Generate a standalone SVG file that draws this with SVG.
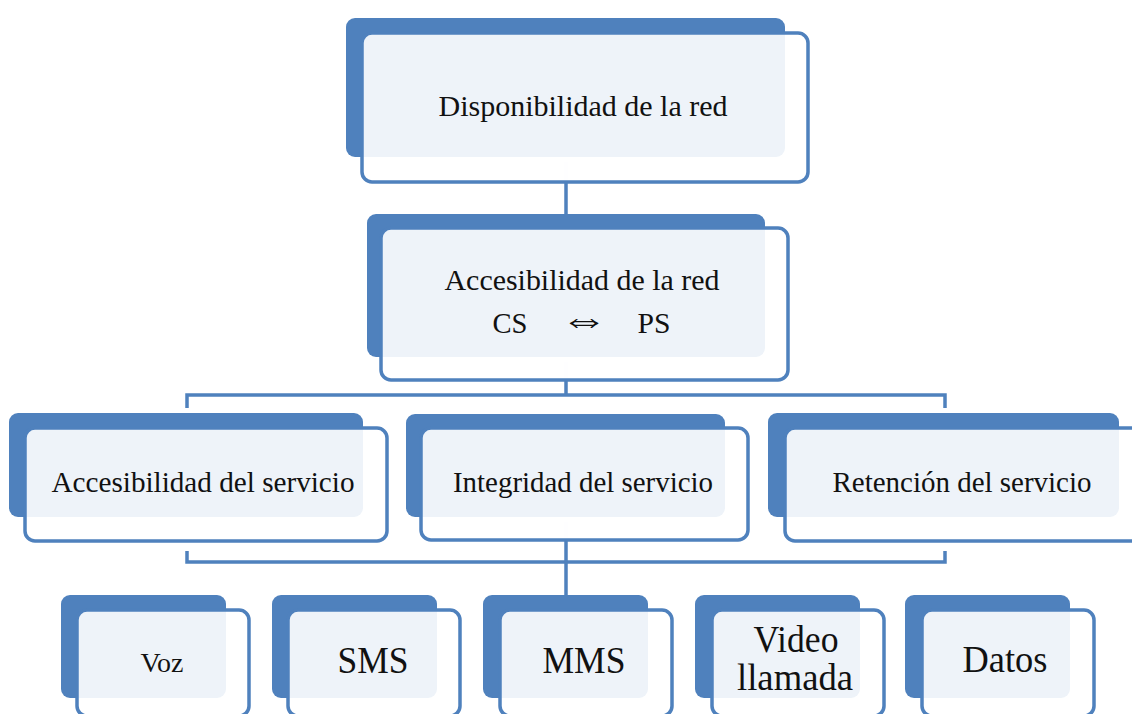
<svg xmlns="http://www.w3.org/2000/svg" width="1132" height="714" viewBox="0 0 1132 714">
<style>
.bk{fill:#4F81BD}
.fr{fill:#ffffff;fill-opacity:0.9;stroke:#4F81BD;stroke-width:3.5}
.ln{fill:none;stroke:#4F81BD;stroke-width:3.5}
.ghost{fill:none;stroke:#4F81BD;stroke-width:3.5;stroke-opacity:0.1}
.t1{font-size:30px}
.t2{font-size:37px}
.t3{font-size:27px}
</style>
<rect width="1132" height="714" fill="#ffffff"/>
<g id="connectors">
<path class="ln" d="M566,183 V228"/>
<path class="ln" d="M566,381 V395"/>
<path class="ln" d="M187,408 V395 H945 V408"/>
<path class="ln" d="M187,551 V562 H945 V551"/>
<path class="ln" d="M566,541 V596"/>
<path class="ghost" d="M566,162 V182 M566,362 V380 M566,522 V540"/>
</g>
<g id="nodes" font-family="'Liberation Serif', 'Times New Roman', Tinos, 'Noto Serif', 'DejaVu Serif', serif" fill="#111" text-anchor="middle">
<g id="n-disponibilidad">
<rect class="bk" x="346" y="18" width="439" height="139" rx="9"/>
<rect class="fr" x="362" y="33" width="446" height="149" rx="10"/>
<text class="t1" x="583" y="116" textLength="289" lengthAdjust="spacingAndGlyphs">Disponibilidad de la red</text>
</g>
<g id="n-accesibilidad-red">
<rect class="bk" x="367" y="214" width="398" height="143" rx="9"/>
<rect class="fr" x="381" y="228" width="407" height="152" rx="10"/>
<text class="t1" x="582" y="290" textLength="275" lengthAdjust="spacingAndGlyphs">Accesibilidad de la red</text>
<text class="t1" x="510" y="333" textLength="35" lengthAdjust="spacingAndGlyphs">CS</text>
<text x="0" y="0" font-size="30" transform="translate(584,332) scale(1.6,1.25)">⇔</text>
<text class="t1" x="654" y="333" textLength="33" lengthAdjust="spacingAndGlyphs">PS</text>
</g>
<g id="n-acc-servicio">
<rect class="bk" x="9" y="413" width="354" height="104" rx="9"/>
<rect class="fr" x="25" y="428" width="362" height="113" rx="10"/>
<text class="t1" x="203" y="492" textLength="303" lengthAdjust="spacingAndGlyphs">Accesibilidad del servicio</text>
</g>
<g id="n-int-servicio">
<rect class="bk" x="406" y="414" width="319" height="103" rx="9"/>
<rect class="fr" x="421" y="428" width="327" height="112" rx="10"/>
<text class="t1" x="583" y="492" textLength="260" lengthAdjust="spacingAndGlyphs">Integridad del servicio</text>
</g>
<g id="n-ret-servicio">
<rect class="bk" x="768" y="413" width="351" height="104" rx="9"/>
<rect class="fr" x="785" y="428" width="362" height="113" rx="10"/>
<text class="t1" x="962" y="492" textLength="259" lengthAdjust="spacingAndGlyphs">Retención del servicio</text>
</g>
<g id="n-voz">
<rect class="bk" x="61" y="595" width="165" height="103" rx="9"/>
<rect class="fr" x="77" y="610" width="172" height="106" rx="10"/>
<text class="t3" x="162" y="672" textLength="43" lengthAdjust="spacingAndGlyphs">Voz</text>
</g>
<g id="n-sms">
<rect class="bk" x="272" y="595" width="165" height="103" rx="9"/>
<rect class="fr" x="288" y="610" width="172" height="106" rx="10"/>
<text class="t2" x="373" y="673" textLength="71" lengthAdjust="spacingAndGlyphs">SMS</text>
</g>
<g id="n-mms">
<rect class="bk" x="483" y="595" width="165" height="103" rx="9"/>
<rect class="fr" x="500" y="610" width="172" height="106" rx="10"/>
<text class="t2" x="584" y="673" textLength="83" lengthAdjust="spacingAndGlyphs">MMS</text>
</g>
<g id="n-video">
<rect class="bk" x="695" y="595" width="165" height="103" rx="9"/>
<rect class="fr" x="712" y="610" width="172" height="106" rx="10"/>
<text class="t2" x="796" y="652" textLength="85" lengthAdjust="spacingAndGlyphs">Video</text>
<text class="t2" x="795" y="690" textLength="116" lengthAdjust="spacingAndGlyphs">llamada</text>
</g>
<g id="n-datos">
<rect class="bk" x="905" y="595" width="165" height="103" rx="9"/>
<rect class="fr" x="922" y="610" width="172" height="106" rx="10"/>
<text class="t2" x="1005" y="672" textLength="85" lengthAdjust="spacingAndGlyphs">Datos</text>
</g>
</g>
</svg>
